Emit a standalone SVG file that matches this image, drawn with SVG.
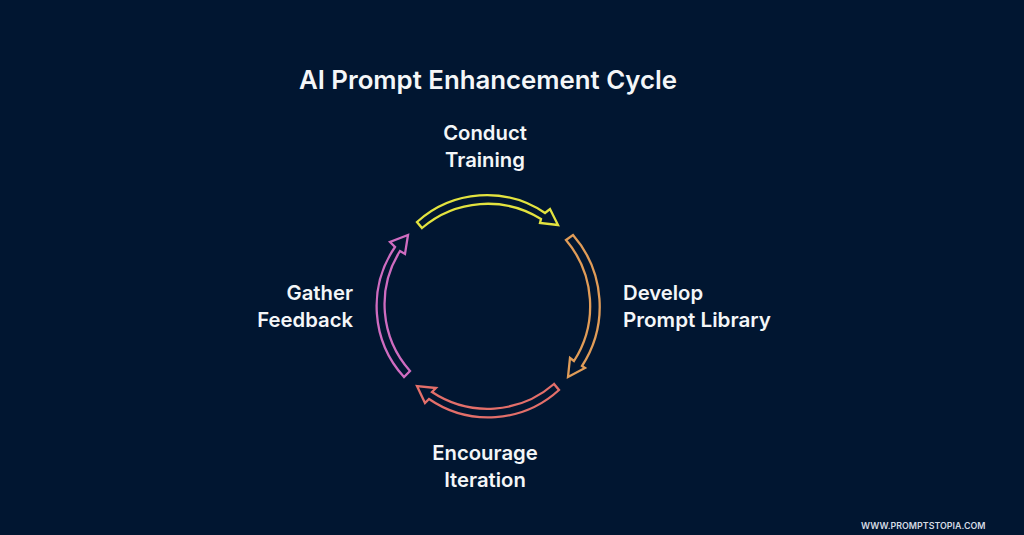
<svg xmlns="http://www.w3.org/2000/svg" width="1024" height="535" viewBox="0 0 1024 535">
<style>
text{font-family:"Inter","Roboto","Liberation Sans",sans-serif;fill:#f4f6f8;font-weight:600}
.t{font-size:25.8px}
.l{font-size:20.3px}
.w{font-size:8.9px;fill:#d5dbe4}
.a{fill:none;stroke-width:2.3;stroke-linejoin:miter}
</style>
<rect width="1024" height="535" fill="#011631"/>
<g id="title"><text class="t" x="488" y="89" text-anchor="middle">AI Prompt Enhancement Cycle</text></g>
<g id="connectors">
<path class="a" stroke="#e3e33f" d="M417 222A104 104 0 0 1 545 213L550 209L558 225L540 223L541 219A101 101 0 0 0 422 228Z"/>
<path class="a" stroke="#e09c58" d="M573 235A109 109 0 0 1 582 366L585 368L568 377L570 358L574 361A102 102 0 0 0 566 240Z"/>
<path class="a" stroke="#e36f6a" d="M559 390A105 105 0 0 1 429 399L425 403L417 386L436 388L432 392A101 101 0 0 0 554 384Z"/>
<path class="a" stroke="#cf6cc0" d="M404 377A105 105 0 0 1 395 247L390 242L408 235L405 254L400 251A100 100 0 0 0 410 371Z"/>
</g>
<g id="node-conduct-training"><text class="l" x="485" y="140" text-anchor="middle">Conduct</text><text class="l" x="485" y="167" text-anchor="middle">Training</text></g>
<g id="node-develop-prompt-library"><text class="l" x="623" y="300">Develop</text><text class="l" x="623" y="327" textLength="148" lengthAdjust="spacingAndGlyphs">Prompt Library</text></g>
<g id="node-encourage-iteration"><text class="l" x="485" y="460" text-anchor="middle">Encourage</text><text class="l" x="485" y="487" text-anchor="middle">Iteration</text></g>
<g id="node-gather-feedback"><text class="l" x="353" y="300" text-anchor="end">Gather</text><text class="l" x="353" y="327" text-anchor="end">Feedback</text></g>
<g id="watermark"><text class="w" x="861" y="529">WWW.PROMPTSTOPIA.COM</text></g>
</svg>
